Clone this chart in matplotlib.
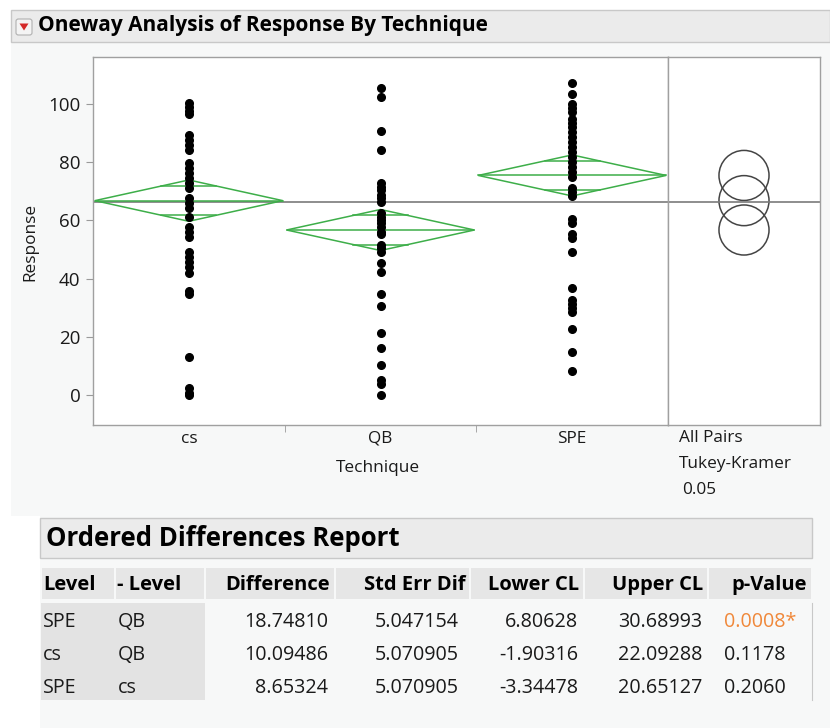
import numpy as np
import matplotlib
matplotlib.use("Agg")
import matplotlib.pyplot as plt
from matplotlib.patches import Rectangle, Polygon, Circle, FancyBboxPatch

plt.rcParams['font.family'] = ['Open Sans', 'DejaVu Sans']

# data
groups = ["cs", "QB", "SPE"]
cs_vals = [100.4, 99.1, 97.7, 96.6, 89.3, 87.6, 85.9, 84.2, 79.6, 77.9, 76.2, 74.5,
           72.7, 71.0, 67.6, 65.9, 64.2, 61.3, 57.8, 56.1, 54.4, 49.2, 47.5, 45.8,
           44.1, 42.0, 35.8, 34.7, 13.2, 2.3, 0.6, 0.0]
qb_vals = [105.4, 102.3, 90.7, 84.2, 72.7, 71.6, 70.4, 68.7, 67.6, 66.4, 62.4, 61.3,
           60.1, 59.0, 57.8, 56.1, 55.3, 51.5, 50.4, 49.2, 45.5, 42.4, 34.6, 30.7,
           21.4, 16.3, 10.3, 5.2, 3.7, 0.0]
spe_vals = [107.3, 103.4, 100.0, 98.5, 97.4, 94.7, 93.6, 92.2, 90.5, 88.8, 87.1, 85.3,
            83.6, 81.9, 80.2, 78.5, 76.7, 75.0, 71.0, 69.9, 68.4, 60.4, 59.0, 55.3,
            53.8, 49.2, 36.7, 32.6, 31.3, 29.8, 28.4, 22.6, 14.9, 8.2]
means = [66.79, 56.70, 75.45]
ci_half = [7.1, 7.05, 7.05]
grand_mean = 66.3
circle_r = 8.6

# ordered differences report
lvl = ["SPE", "cs", "SPE"]
minus_lvl = ["QB", "QB", "cs"]
difference = [18.74810, 10.09486, 8.65324]
std_err = [5.047154, 5.070905, 5.070905]
lower_cl = [6.80628, -1.90316, -3.34478]
upper_cl = [30.68993, 22.09288, 20.65127]
p_value = [0.0008, 0.1178, 0.2060]

W, H = 830, 728
fig = plt.figure(figsize=(W / 100, H / 100), dpi=100)
fig.patch.set_facecolor("white")


def fx(x):
    return x / W


def fy(y):
    return 1 - y / H


def rect(x0, y0, x1, y1, fc, ec="none", lw=1.0):
    fig.add_artist(Rectangle((fx(x0), fy(y1)), fx(x1) - fx(x0), fy(y0) - fy(y1),
                             transform=fig.transFigure, facecolor=fc, edgecolor=ec,
                             linewidth=lw, zorder=0))


def txt(x, y, s, **kw):
    kw.setdefault("va", "center")
    kw.setdefault("color", "#1a1a1a")
    fig.text(fx(x), fy(y), s, **kw)


# backgrounds
rect(11, 42, 830, 516, "#f7f8f8")
rect(11, 10, 830, 42, "#ebebeb", ec="#c8c8c8")
rect(40, 516, 830, 728, "#f7f8f8")

# red triangle button
fig.add_artist(FancyBboxPatch((fx(16), fy(35)), fx(16), fy(19) - fy(35),
                              boxstyle="round,pad=0,rounding_size=0.003",
                              transform=fig.transFigure, facecolor="#f4f4f4",
                              edgecolor="#b0b0b0", linewidth=0.8))
fig.add_artist(Polygon([(fx(19.5), fy(23.5)), (fx(28.5), fy(23.5)), (fx(24), fy(30.5))],
                       closed=True, transform=fig.transFigure, facecolor="#d42a2a",
                       edgecolor="none"))
txt(38, 26, "Oneway Analysis of Response By Technique", fontsize=15,
    fontweight="bold", color="black")

# main plot
ylo, yhi = -10.31, 116.15
ax = fig.add_axes([fx(93), fy(425), fx(668) - fx(93), fy(57) - fy(425)])
ax.set_xlim(-0.5, 2.5)
ax.set_ylim(ylo, yhi)
green = "#3dae49"
for i, vals in enumerate([cs_vals, qb_vals, spe_vals]):
    ax.plot([i] * len(vals), vals, "o", color="black", markersize=5.5, zorder=3)
    m, h, w = means[i], ci_half[i], 0.49
    ax.add_patch(Polygon([(i - w, m), (i, m + h), (i + w, m), (i, m - h)], closed=True,
                         fill=False, edgecolor=green, linewidth=1.1, zorder=2))
    ax.plot([i - w, i + w], [m, m], color=green, linewidth=1.1, zorder=2)
    ov = h / np.sqrt(2)
    ow = w * (1 - 1 / np.sqrt(2))
    for s in (1, -1):
        ax.plot([i - ow, i + ow], [m + s * ov, m + s * ov], color=green,
                linewidth=1.1, zorder=2)
ax.axhline(grand_mean, color="#7a7a7a", linewidth=1.2, zorder=1)

ax.set_yticks([0, 20, 40, 60, 80, 100])
ax.set_xticks([0, 1, 2])
ax.set_xticklabels(groups)
ax.set_xticks([0.5, 1.5], minor=True)
ax.tick_params(axis="x", which="major", length=0, pad=4, labelsize=12.4, labelcolor="#1a1a1a")
ax.tick_params(axis="x", which="minor", length=5, color="#9a9a9a", direction="out")
ax.tick_params(axis="y", length=5, color="#9a9a9a", direction="out", pad=4,
               labelsize=13.5, labelcolor="#1a1a1a")
for sp in ax.spines.values():
    sp.set_color("#a0a0a0")
    sp.set_linewidth(1.0)

txt(30, 242, "Response", rotation=90, ha="center", fontsize=12.4)
txt(378, 468, "Technique", ha="center", fontsize=12.4)

# comparison circles panel
ax2 = fig.add_axes([fx(668), fy(425), fx(820) - fx(668), fy(57) - fy(425)], sharey=ax)
px_per_unit = 368 / (yhi - ylo)
ax2.set_xlim(0, 152 / px_per_unit)
cx = 76 / px_per_unit
for m in means:
    ax2.add_patch(Circle((cx, m), circle_r, fill=False, edgecolor="#444444", linewidth=1.1))
ax2.axhline(grand_mean, color="#7a7a7a", linewidth=1.2)
ax2.tick_params(left=False, labelleft=False, bottom=False, labelbottom=False)
for sp in ax2.spines.values():
    sp.set_color("#a0a0a0")
    sp.set_linewidth(1.0)

txt(679, 438, "All Pairs", fontsize=12.4)
txt(679, 464, "Tukey-Kramer", fontsize=12.4)
txt(682, 490, "0.05", fontsize=12.4)

# ordered differences report
rect(40, 518, 812, 558, "#ebebeb", ec="#c8c8c8")
txt(46, 538, "Ordered Differences Report", fontsize=18.5, fontweight="bold", color="black")

col_edges = [41, 115, 205, 335, 470, 584, 708, 812]
headers = ["Level", "- Level", "Difference", "Std Err Dif", "Lower CL", "Upper CL", "p-Value"]
for k, hd in enumerate(headers):
    rect(col_edges[k] + 1, 568, col_edges[k + 1] - 1, 599, "#e6e6e6")
    if k < 2:
        txt(col_edges[k] + 2, 585, hd, fontsize=14.5, fontweight="bold", color="black")
    else:
        txt(col_edges[k + 1] - 5, 585, hd, fontsize=14.5, fontweight="bold", color="black",
            ha="right")
rect(41, 603, 205, 700, "#e3e3e3")
fig.add_artist(plt.Line2D([fx(812), fx(812)], [fy(603), fy(700)], transform=fig.transFigure,
                          color="#c8c8c8", linewidth=0.8))

row_y = [622, 655, 688]
fs = 14.2
for r in range(3):
    y = row_y[r]
    txt(43, y, lvl[r], fontsize=fs)
    txt(118, y, minus_lvl[r], fontsize=fs)
    txt(328, y, f"{difference[r]:.5f}", fontsize=fs, ha="right")
    txt(459, y, f"{std_err[r]:.6f}", fontsize=fs, ha="right")
    txt(578, y, f"{lower_cl[r]:.5f}", fontsize=fs, ha="right")
    txt(702, y, f"{upper_cl[r]:.5f}", fontsize=fs, ha="right")
    if p_value[r] < 0.05:
        txt(724, y, f"{p_value[r]:.4f}*", fontsize=fs, color="#f0883a")
    else:
        txt(724, y, f"{p_value[r]:.4f}", fontsize=fs)

fig.savefig("out.png", dpi=100)
